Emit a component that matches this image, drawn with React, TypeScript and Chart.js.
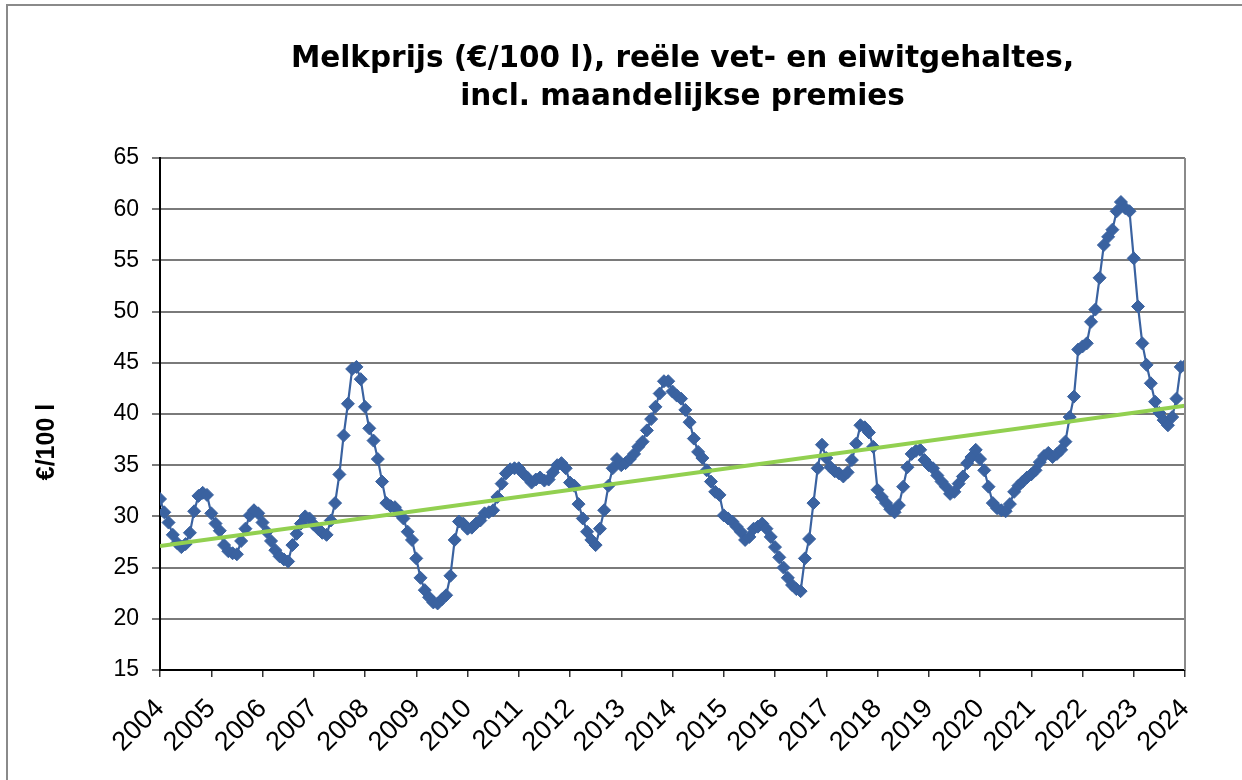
import React, { useEffect, useRef } from "react";
import { Chart, registerables } from "chart.js";

Chart.register(...registerables);

// Monthly milk price (€/100 l), Jan 2004 .. Jan 2024
const startYear = 2004;
const milkPrice: number[] = [
  // 2004
  31.7, 30.4, 29.4, 28.2, 27.4, 27.0, 27.3, 28.4, 30.5, 32.0, 32.3, 32.1,
  // 2005
  30.3, 29.3, 28.6, 27.2, 26.6, 26.4, 26.3, 27.6, 28.8, 30.1, 30.6, 30.3,
  // 2006
  29.4, 28.5, 27.6, 26.7, 26.1, 25.8, 25.6, 27.2, 28.3, 29.3, 30.0, 29.8,
  // 2007
  29.2, 28.8, 28.4, 28.2, 29.6, 31.3, 34.1, 37.9, 41.0, 44.4, 44.6, 43.4,
  // 2008
  40.7, 38.6, 37.4, 35.6, 33.4, 31.3, 31.0, 30.9, 30.3, 29.8, 28.5, 27.7,
  // 2009
  25.9, 24.0, 22.8, 22.1, 21.6, 21.5, 21.9, 22.3, 24.2, 27.7, 29.5, 29.3,
  // 2010
  28.8, 28.9, 29.3, 29.6, 30.3, 30.4, 30.6, 31.9, 33.2, 34.2, 34.6, 34.7,
  // 2011
  34.7, 34.2, 33.8, 33.3, 33.6, 33.8, 33.5, 33.6, 34.3, 35.0, 35.2, 34.7,
  // 2012
  33.3, 33.0, 31.2, 29.8, 28.5, 27.7, 27.2, 28.8, 30.6, 33.0, 34.7, 35.6,
  // 2013
  35.0, 35.2, 35.6, 36.1, 36.8, 37.3, 38.4, 39.5, 40.7, 42.0, 43.2, 43.2,
  // 2014
  42.2, 41.8, 41.5, 40.4, 39.2, 37.6, 36.3, 35.7, 34.5, 33.4, 32.4, 32.1,
  // 2015
  30.1, 29.8, 29.5, 29.0, 28.5, 27.7, 28.0, 28.8, 29.0, 29.3, 28.8, 28.0,
  // 2016
  27.0, 26.0, 25.0, 24.0, 23.3, 22.9, 22.7, 25.9, 27.8, 31.3, 34.7, 37.0,
  // 2017
  35.7, 34.8, 34.4, 34.2, 33.9, 34.3, 35.5, 37.1, 38.9, 38.7, 38.2, 36.8,
  // 2018
  32.6, 31.9, 31.3, 30.7, 30.4, 31.1, 32.9, 34.8, 36.1, 36.4, 36.5, 35.5,
  // 2019
  35.0, 34.7, 34.0, 33.4, 32.9, 32.2, 32.4, 33.2, 33.9, 35.2, 35.8, 36.5,
  // 2020
  35.6, 34.5, 32.9, 31.3, 30.8, 30.6, 30.5, 31.2, 32.4, 33.0, 33.4, 33.8,
  // 2021
  34.1, 34.5, 35.3, 35.9, 36.2, 35.8, 36.1, 36.5, 37.3, 39.7, 41.7, 46.3,
  // 2022
  46.6, 46.9, 49.0, 50.2, 53.3, 56.5, 57.3, 58.0, 59.8, 60.7, 60.1, 59.8,
  // 2023
  55.2, 50.5, 46.9, 44.8, 43.0, 41.2, 40.1, 39.4, 38.9, 39.7, 41.5, 44.6,
  // 2024
  44.7,
];

// Linear trend line endpoints (month index, value)
const trendMonths: number[] = [0, 240];
const trendValues: number[] = [27.1, 40.8];

const yearLabels: string[] = [
  "2004", "2005", "2006", "2007", "2008", "2009", "2010", "2011", "2012", "2013", "2014",
  "2015", "2016", "2017", "2018", "2019", "2020", "2021", "2022", "2023", "2024",
];

const titleLines: string[] = [
  "Melkprijs (€/100 l), reële vet- en eiwitgehaltes,",
  "incl. maandelijkse premies",
];
const yAxisTitle = "€/100 l";

const decorPlugin = {
  id: "decor",
  beforeDraw(chart: any) {
    const ctx = chart.ctx;
    ctx.save();
    ctx.fillStyle = "#ffffff";
    ctx.fillRect(0, 0, chart.width, chart.height);
    ctx.strokeStyle = "#8a8a8a";
    ctx.lineWidth = 2;
    ctx.beginPath();
    ctx.moveTo(7, chart.height);
    ctx.lineTo(7, 5);
    ctx.lineTo(chart.width, 5);
    ctx.stroke();
    ctx.restore();
  },
  afterDraw(chart: any) {
    const ctx = chart.ctx;
    const a = chart.chartArea;
    ctx.save();
    ctx.strokeStyle = "#8a8a8a";
    ctx.lineWidth = 2;
    ctx.beginPath();
    ctx.moveTo(a.right, a.top);
    ctx.lineTo(a.right, a.bottom);
    ctx.stroke();
    ctx.fillStyle = "#000";
    ctx.font = "bold 29.5px 'DejaVu Sans', Verdana, sans-serif";
    ctx.textAlign = "center";
    ctx.textBaseline = "middle";
    const cx = (a.left + a.right) / 2 + 10;
    ctx.fillText(titleLines[0], cx, 59);
    ctx.fillText(titleLines[1], cx, 97);
    ctx.font = "bold 25px 'Liberation Sans', Arial, sans-serif";
    ctx.translate(47, 442);
    ctx.rotate(-Math.PI / 2);
    ctx.fillText(yAxisTitle, 0, 0);
    ctx.restore();
  },
};

export default function App() {
  const canvasRef = useRef<HTMLCanvasElement | null>(null);

  useEffect(() => {
    if (!canvasRef.current) return;
    const milkData = milkPrice.map((v, i) => ({ x: i, y: v }));
    const trendData = trendMonths.map((m, i) => ({ x: m, y: trendValues[i] }));
    const chart = new Chart(canvasRef.current, {
      type: "line",
      data: {
        datasets: [
          {
            label: "Trend",
            data: trendData,
            borderColor: "#92D050",
            borderWidth: 4,
            pointRadius: 0,
            order: 0,
          },
          {
            label: "Melkprijs",
            data: milkData,
            borderColor: "#3A62A0",
            backgroundColor: "#3A62A0",
            borderWidth: 2.2,
            pointStyle: "rectRot",
            pointRadius: 6.5,
            pointBorderWidth: 1,
            pointBackgroundColor: "#3A62A0",
            pointBorderColor: "#3A62A0",
            order: 1,
          },
        ],
      },
      options: {
        animation: false,
        responsive: true,
        maintainAspectRatio: false,
        layout: { padding: { left: 0, top: 158, right: 57, bottom: 0 } },
        plugins: {
          legend: { display: false },
          tooltip: { enabled: false },
          title: { display: false },
        },
        scales: {
          x: {
            type: "linear",
            min: 0,
            max: 240,
            afterFit: (s: any) => {
              s.height = 110;
            },
            border: { display: true, color: "#000", width: 2 },
            grid: {
              drawOnChartArea: false,
              drawTicks: true,
              tickLength: 7,
              color: "#333",
              lineWidth: 1.5,
            },
            ticks: {
              stepSize: 12,
              autoSkip: false,
              maxRotation: 45,
              minRotation: 45,
              padding: 16,
              color: "#000",
              font: { family: "'Liberation Sans', Arial, sans-serif", size: 27 },
              callback: (v: any) => {
                const idx = Math.round(Number(v) / 12);
                return yearLabels[idx] ?? "";
              },
            },
          },
          y: {
            min: 15,
            max: 65,
            afterFit: (s: any) => {
              s.width = 160;
            },
            border: { display: true, color: "#000", width: 2 },
            grid: {
              color: "#7a7a7a",
              lineWidth: 2,
              tickLength: 8,
            },
            ticks: {
              stepSize: 5,
              padding: 13,
              color: "#000",
              font: { family: "'Liberation Sans', Arial, sans-serif", size: 23 },
            },
          },
        },
      },
      plugins: [decorPlugin],
    });
    return () => chart.destroy();
  }, []);

  return (
    <div style={{ position: "fixed", left: 0, top: 0, width: 1242, height: 780 }}>
      <canvas ref={canvasRef} />
    </div>
  );
}
